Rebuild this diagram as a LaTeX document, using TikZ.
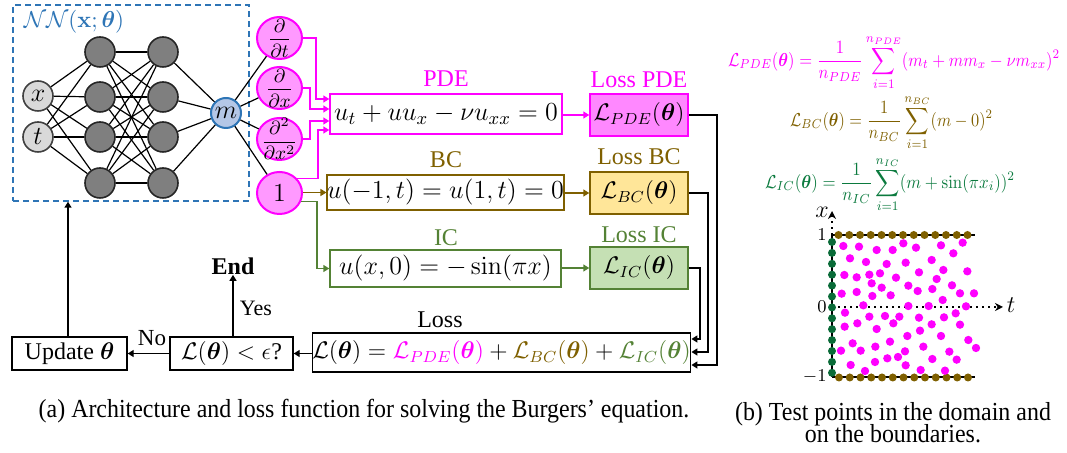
\RequirePackage{fix-cm}
\documentclass[tikz,border=0pt]{standalone}
\usepackage{amsmath,bm}
\usepackage[no-math]{fontspec}
\setmainfont{Liberation Serif}
\usetikzlibrary{arrows.meta,shapes.geometric,calc}
\definecolor{mag}{HTML}{FF00FF}
\definecolor{magfill}{HTML}{FF99FF}
\definecolor{magloss}{HTML}{FF88FF}
\definecolor{olive}{HTML}{7F6000}
\definecolor{bcfill}{HTML}{FFE699}
\definecolor{icg}{HTML}{548235}
\definecolor{icfill}{HTML}{C5E0B4}
\definecolor{fgreen}{HTML}{0B7A3E}
\definecolor{dotgreen}{HTML}{0A6B38}
\definecolor{nnblue}{HTML}{2E75B6}
\definecolor{mfill}{HTML}{B4C7E7}
\definecolor{hidfill}{HTML}{7F7F7F}
\definecolor{infill}{HTML}{D9D9D9}
\begin{document}
\begin{tikzpicture}[x=0.5pt,y=-0.5pt,
  conn/.style={line width=0.6pt,draw=black},
  nnin/.style={circle,draw=black!75,fill=infill,line width=0.8pt,minimum size=15pt,inner sep=0pt,font=\fontsize{13}{15}\selectfont},
  nnhid/.style={circle,draw=black!85,fill=hidfill,line width=0.8pt,minimum size=15pt,inner sep=0pt},
  nnout/.style={circle,draw=nnblue,fill=mfill,line width=1pt,minimum size=15pt,inner sep=0pt,font=\fontsize{13}{15}\selectfont},
  deriv/.style={ellipse,draw=mag,fill=magfill,line width=1pt,minimum width=22.5pt,minimum height=21pt,inner sep=0pt},
  dlab/.style={inner sep=0pt,font=\fontsize{9.5}{10}\selectfont},
  eqbox/.style={draw,fill=white,line width=0.7pt,inner sep=0pt,font=\fontsize{13}{15}\selectfont},
  lbl/.style={font=\fontsize{12}{14}\selectfont,inner sep=0pt},
  arr/.style={line width=0.7pt,-{Triangle[length=3pt,width=3.5pt]}},
  capt/.style={inner sep=0pt},
  formula/.style={inner sep=0pt,font=\fontsize{10}{12}\selectfont}
]
\useasboundingbox (0,0) rectangle (1067,453);

% ---------- neural network ----------
\node[draw=nnblue,dashed,dash pattern=on 3pt off 2pt,line width=0.7pt,minimum width=118pt,minimum height=98pt,inner sep=0pt] (nn) at (131,103) {};
\node[text=nnblue,inner sep=0pt,font=\fontsize{11.5}{14}\selectfont] (nnlbl) at (74,22) {$\mathcal{N}\mathcal{N}(\mathbf{x};\bm{\theta})$};

\node[nnin] (in1) at (38,96) {$x$};
\node[nnin] (in2) at (38,137) {$t$};
\foreach \j/\yy in {1/52,2/97,3/137,4/183}{
  \node[nnhid] (ha\j) at (100,\yy) {};
  \node[nnhid] (hb\j) at (163,\yy) {};
}
\node[nnout] (m) at (226,113) {$m$};
\foreach \i in {1,2}{\foreach \j in {1,...,4}{\draw[conn] (in\i) -- (ha\j);}}
\foreach \i in {1,...,4}{\foreach \j in {1,...,4}{\draw[conn] (ha\i) -- (hb\j);}}
\foreach \i in {1,...,4}{\draw[conn] (hb\i) -- (m);}

% ---------- derivative nodes ----------
\node[deriv] (d1) at (279.5,38) {};
\node[deriv] (d2) at (279.5,88) {};
\node[deriv] (d3) at (279.5,139) {};
\node[deriv] (d4) at (279.5,193) {};
\node[dlab] (d1t) at (d1) {$\dfrac{\partial}{\partial t}$};
\node[dlab] (d2t) at (d2) {$\dfrac{\partial}{\partial x}$};
\node[dlab] (d3t) at (d3) {$\dfrac{\partial^2}{\partial x^2}$};
\node[dlab,font=\fontsize{13}{15}\selectfont] (d4t) at (d4) {$1$};
\foreach \i in {1,...,4}{\draw[conn] (m) -- (d\i);}

% ---------- equation boxes ----------
\node[eqbox,draw=mag,minimum width=116pt,minimum height=20pt] (pde) at (446,114) {$u_t+uu_x-\nu u_{xx}=0$};
\node[lbl,text=mag] (pdelbl) at (446,79) {PDE};
\node[eqbox,draw=mag,fill=magloss,minimum width=49pt,minimum height=21pt,font=\fontsize{12}{14}\selectfont] (losspde) at (639,115) {$\mathcal{L}_{PDE}(\bm{\theta})$};
\node[lbl,text=mag] (losspdelbl) at (639,80) {Loss PDE};

\node[eqbox,draw=olive,minimum width=115.5pt,minimum height=17.5pt] (bc) at (445.5,192.5) {$u(-1,t)=u(1,t)=0$};
\node[lbl,text=olive] (bclbl) at (446,160) {BC};
\node[eqbox,draw=olive,fill=bcfill,minimum width=49pt,minimum height=21pt,font=\fontsize{12}{14}\selectfont] (lossbc) at (639,193) {$\mathcal{L}_{BC}(\bm{\theta})$};
\node[lbl,text=olive] (lossbclbl) at (639,157) {Loss BC};

\node[eqbox,draw=icg,minimum width=115.5pt,minimum height=18.5pt] (ic) at (445.5,268.5) {$u(x,0)=-\sin(\pi x)$};
\node[lbl,text=icg] (iclbl) at (446,238) {IC};
\node[eqbox,draw=icg,fill=icfill,minimum width=49pt,minimum height=21pt,font=\fontsize{12}{14}\selectfont] (lossic) at (639,268) {$\mathcal{L}_{IC}(\bm{\theta})$};
\node[lbl,text=icg] (lossiclbl) at (639,235) {Loss IC};

\node[eqbox,minimum width=188.5pt,minimum height=19.5pt,font=\fontsize{12}{14}\selectfont] (loss) at (501.5,352.5) {$\mathcal{L}(\bm{\theta})=\textcolor{mag}{\mathcal{L}_{PDE}(\bm{\theta})}+\textcolor{olive}{\mathcal{L}_{BC}(\bm{\theta})}+\textcolor{icg}{\mathcal{L}_{IC}(\bm{\theta})}$};
\node[lbl] (losslbl) at (440,320) {Loss};
\node[eqbox,minimum width=61.5pt,minimum height=16.5pt,font=\fontsize{12}{14}\selectfont] (dec) at (231.5,353.5) {$\mathcal{L}(\bm{\theta})<\epsilon$?};
\node[eqbox,font=\fontsize{12}{14}\selectfont,minimum width=57.5pt,minimum height=16.5pt] (upd) at (69.5,353.5) {Update $\bm{\theta}$};
\node[lbl,font=\bfseries\fontsize{12}{14}\selectfont] (endn) at (233,266) {End};
\node[lbl,font=\fontsize{11}{13}\selectfont] (yes) at (256,308) {Yes};
\node[lbl,font=\fontsize{11.5}{13}\selectfont] (no) at (152,338) {No};

% ---------- connectors ----------
\draw[arr,draw=mag] (d1.east) -| (316,99) -- (pde.west |- {(0,99)});
\draw[arr,draw=mag] (d2.east) -| (310,109) -- (pde.west |- {(0,109)});
\draw[arr,draw=mag] (d3.east) -| (310,121) -- (pde.west |- {(0,121)});
\draw[arr,draw=mag] (d4.40) -| (318,130) -- (pde.west |- {(0,130)});
\draw[arr,draw=olive] (d4.east |- bc.west) -- (bc.west);
\draw[arr,draw=icg] (d4.-22) -| (317,268.5) -- (ic.west);
\draw[arr,draw=mag] (pde.east |- losspde.west) -- (losspde.west);
\draw[arr,draw=olive] (bc.east |- lossbc.west) -- (lossbc.west);
\draw[arr,draw=icg] (ic.east |- lossic.west) -- (lossic.west);
\draw[arr] (losspde.east) -| (717,365) -- (loss.east |- {(0,365)});
\draw[arr] (lossbc.east) -| (708,352) -- (loss.east |- {(0,352)});
\draw[arr] (lossic.east) -| (700,339) -- (loss.east |- {(0,339)});
\draw[arr] (loss.west |- dec.east) -- (dec.east);
\draw[arr] (dec.west) -- (upd.east);
\draw[arr] (dec.north -| endn) -- (endn.south);
\draw[arr] (upd.north -| {(68,0)}) -- (nn.south -| {(68,0)});

% ---------- formulas ----------
\node[formula,text=mag] (fpde) at (894,62.5) {\resizebox*{166pt}{27.5pt}{$\displaystyle \mathcal{L}_{PDE}(\bm{\theta})=\frac{1}{n_{PDE}}\sum_{i=1}^{n_{PDE}}(m_t+mm_x-\nu m_{xx})^2$}};
\node[formula,text=olive] (fbc) at (891.5,122.5) {\resizebox*{101.5pt}{27.5pt}{$\displaystyle \mathcal{L}_{BC}(\bm{\theta})=\frac{1}{n_{BC}}\sum_{i=1}^{n_{BC}}(m-0)^2$}};
\node[formula,text=fgreen] (fic) at (890,184.5) {\resizebox*{125pt}{27.5pt}{$\displaystyle \mathcal{L}_{IC}(\bm{\theta})=\frac{1}{n_{IC}}\sum_{i=1}^{n_{IC}}(m+\sin(\pi x_i))^2$}};

% ---------- domain plot ----------
\coordinate (o) at (832,307);
\coordinate (xtop) at (832,211);
\coordinate (tend) at (1003,307);
\coordinate (c1) at (832,235);
\coordinate (cm1) at (832,377);
\coordinate (r1) at (975,235);
\coordinate (rm1) at (975,377);
\draw[line width=1pt,dotted,-{Stealth[length=4pt,width=4pt]}] (c1) -- (xtop);
\draw[line width=1pt,dotted,-{Stealth[length=4pt,width=4pt]}] (o) -- (tend);
\draw[line width=1pt] (cm1) -- (c1) -- (r1);
\draw[line width=1pt] (cm1) -- (rm1);
\node[inner sep=0pt,font=\fontsize{12}{14}\selectfont] (xl) at (822,212) {$x$};
\node[inner sep=0pt,font=\fontsize{12}{14}\selectfont] (tl) at (1011,305) {$t$};
\node[inner sep=0pt,anchor=east,font=\fontsize{9}{10}\selectfont] (y1) at (827,235) {$1$};
\node[inner sep=0pt,anchor=east,font=\fontsize{9}{10}\selectfont] (y0) at (827,307) {$0$};
\node[inner sep=0pt,anchor=east,font=\fontsize{9}{10}\selectfont] (ym1) at (827,377) {$-1$};
\foreach \k in {0,...,12}{
  \fill[olive] ({838.5+10.75*\k},235) circle (4);
  \fill[olive] ({839+10.75*\k},377.5) circle (4);
  \fill[dotgreen] (832,{242+10.9*\k}) circle (4);
}
\begin{scope}[shift={(780,210)},scale=1/3]
\foreach \p in {(190,108),(237,110),(290,120),(338,120),(370,100),(408,113),(483,106),(548,98),(520,130),
(210,145),(258,156),(320,162),(377,158),(455,150),(490,180),(562,184),
(193,195),(230,202),(268,194),(300,190),(348,203),(417,187),(470,207),
(275,220),(305,233),(385,227),(413,243),(457,237),(516,226),(540,250),(582,250),
(185,251),(230,246),(277,258),(332,256),(488,270),
(250,286),(385,288),(446,288),(558,289),
(195,308),(268,320),(315,318),(358,320),(417,323),(492,322),(527,310),
(232,340),(340,340),(455,343),(540,344),
(194,350),(290,357),(420,362),(382,378),(483,378),(565,390),
(218,400),(330,395),(430,410),(588,414),
(183,422),(242,422),(286,410),(375,424),(508,425),
(354,441),(322,445),(457,447),(530,449),
(212,465),(285,456),(377,466),(255,483),(422,480),(495,482)}{
  \fill[mag] \p circle (12.5);
}
\end{scope}

% ---------- captions ----------
\node[capt] (capa) at (364,411) {\scalebox{0.92}[1]{\fontsize{13}{15}\selectfont (a) Architecture and loss function for solving the Burgers' equation.}};
\node[capt,align=center] (capb) at (893,423) {\scalebox{0.92}[1]{\fontsize{13}{15}\selectfont (b) Test points in the domain and}\\[-1pt]\scalebox{0.92}[1]{\fontsize{13}{15}\selectfont on the boundaries.}};
\end{tikzpicture}
\end{document}
